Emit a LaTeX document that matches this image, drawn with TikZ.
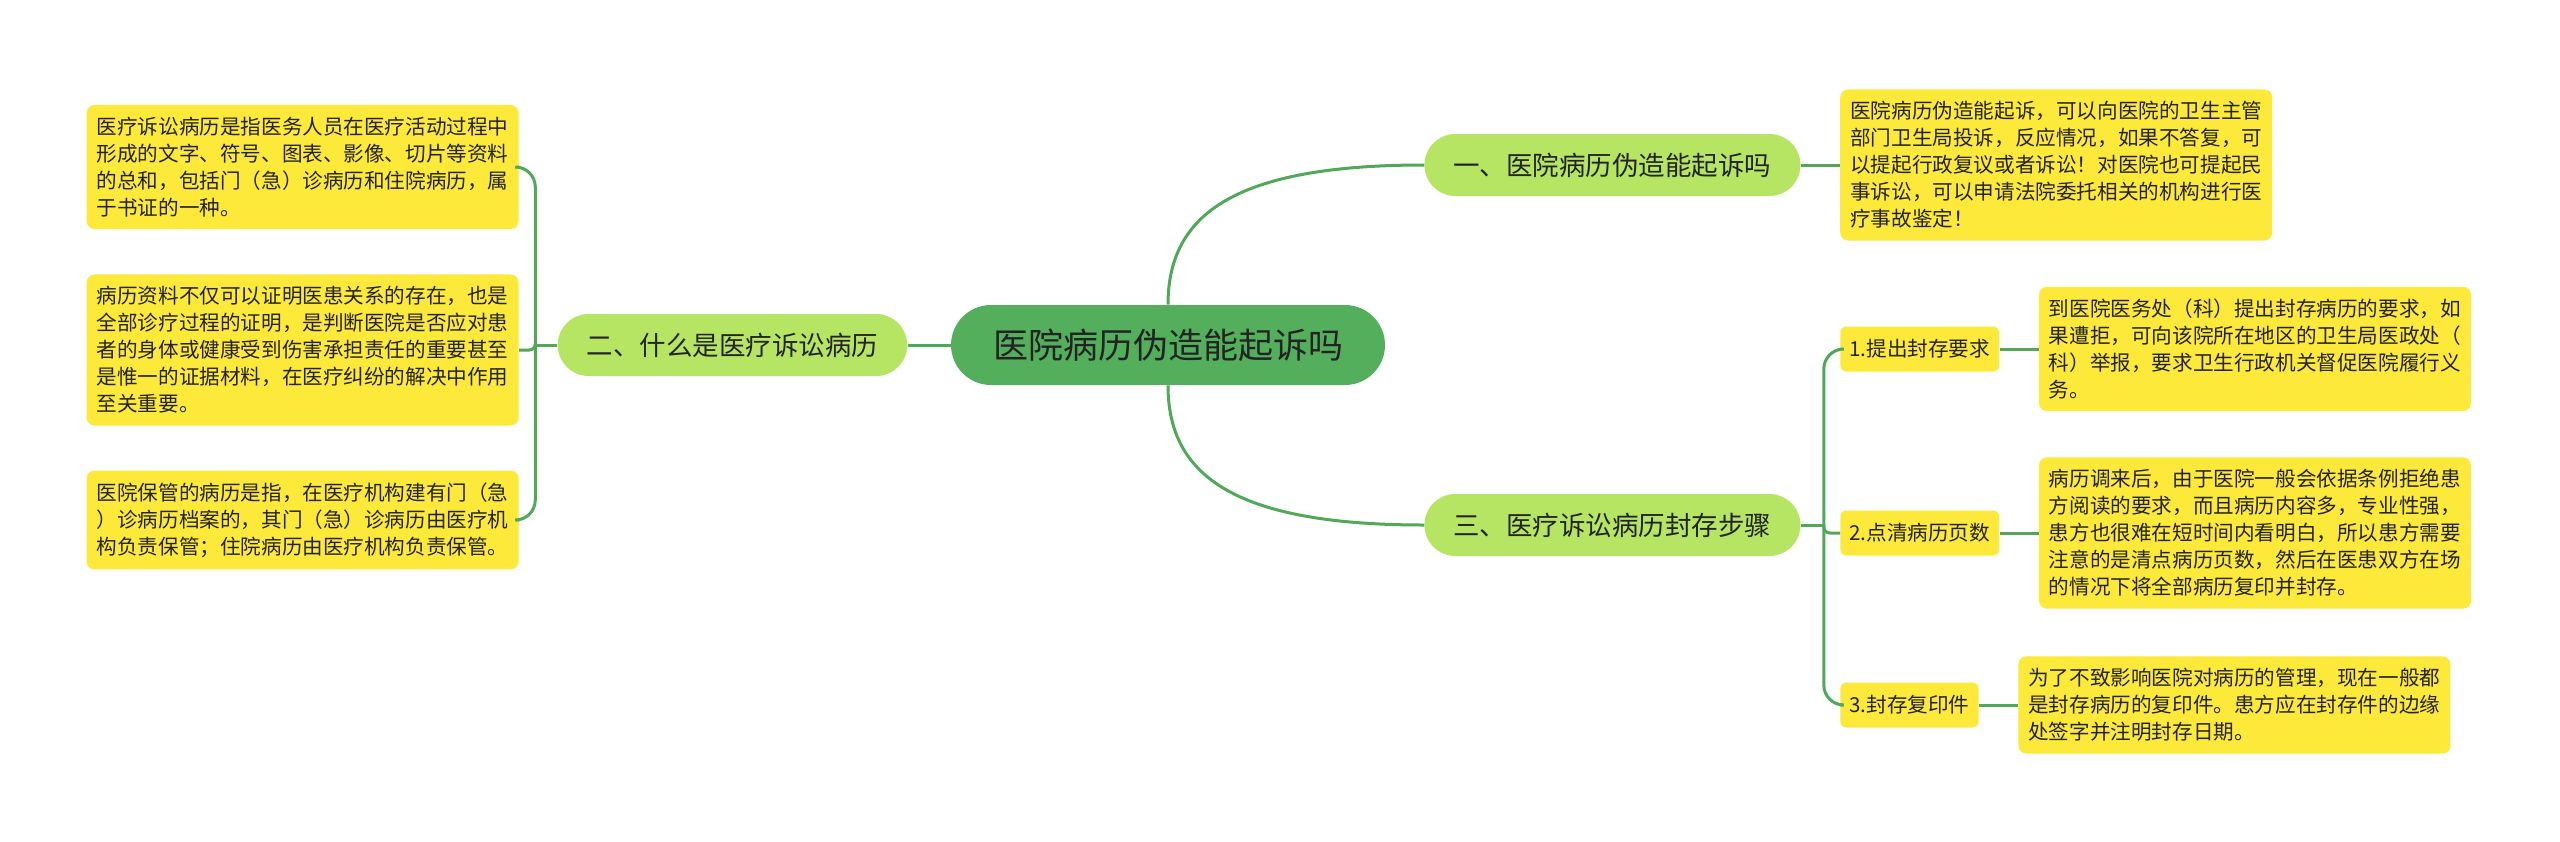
\documentclass[tikz,border=0pt]{standalone}
\usepackage{fontspec}
\setmainfont{Noto Sans CJK SC}
\usetikzlibrary{positioning}
\definecolor{rtf}{RGB}{83,175,92}
\definecolor{brf}{RGB}{181,229,98}
\definecolor{ylf}{RGB}{253,233,58}
\definecolor{lnc}{RGB}{80,168,88}
\definecolor{txc}{RGB}{35,35,35}
\newcommand{\mmroot}{\fontsize{17.5pt}{21pt}\selectfont}
\newcommand{\mmbr}{\fontsize{13.25pt}{16pt}\selectfont}
\newcommand{\mmleaf}{\fontsize{10.3pt}{13.5pt}\selectfont}
\tikzset{
  rootn/.style={rectangle,rounded corners=20pt,fill=rtf,text=txc,
    font=\mmroot,inner xsep=21pt,minimum height=40pt},
  brn/.style={rectangle,rounded corners=15.5pt,fill=brf,text=txc,
    font=\mmbr,inner xsep=14.5pt,minimum height=31pt},
  subn/.style={rectangle,rounded corners=3pt,fill=ylf,text=txc,
    font=\mmleaf,inner xsep=4.5pt,minimum height=22.5pt},
  leafn/.style={rectangle,rounded corners=4pt,fill=ylf,text=txc,
    font=\mmleaf,align=left,inner xsep=5pt,inner ysep=6pt},
  link/.style={draw=lnc,line width=1.5pt},
}

\begin{document}
\begin{tikzpicture}[x=0.5pt,y=-0.5pt,node distance=19.5pt]
        \fill[white] (0,0) rectangle (2560,841);
        \useasboundingbox (0,0) rectangle (2560,841);
        % centre and main branches
        \node[rootn] (rt) at (1168,345) {医院病历伪造能起诉吗};
        \node[brn,left=21.5pt of rt] (b2) {二、什么是医疗诉讼病历};
        \node[brn,anchor=west] (b1) at (1424,165) {一、医院病历伪造能起诉吗};
        \node[brn,anchor=west] (b3) at (1424,525) {三、医疗诉讼病历封存步骤};
        % right side
        \node[leafn,right=of b1] (r1) {医院病历伪造能起诉，可以向医院的卫生主管\\部门卫生局投诉，反应情况，如果不答复，可\\以提起行政复议或者诉讼！对医院也可提起民\\事诉讼，可以申请法院委托相关的机构进行医\\疗事故鉴定！};
        \node[subn,anchor=west] (s1) at (1840,349) {1.提出封存要求};
        \node[subn,anchor=west] (s2) at (1840,533) {2.点清病历页数};
        \node[subn,anchor=west] (s3) at (1840,705) {3.封存复印件};
        \node[leafn,right=of s1] (r2) {到医院医务处（科）提出封存病历的要求，如\\果遭拒，可向该院所在地区的卫生局医政处（\\科）举报，要求卫生行政机关督促医院履行义\\务。};
        \node[leafn,right=of s2] (r3) {病历调来后，由于医院一般会依据条例拒绝患\\方阅读的要求，而且病历内容多，专业性强，\\患方也很难在短时间内看明白，所以患方需要\\注意的是清点病历页数，然后在医患双方在场\\的情况下将全部病历复印并封存。};
        \node[leafn,right=of s3] (r4) {为了不致影响医院对病历的管理，现在一般都\\是封存病历的复印件。患方应在封存件的边缘\\处签字并注明封存日期。};
        % left side
        \node[leafn,anchor=east] (l1) at (519,167) {医疗诉讼病历是指医务人员在医疗活动过程中\\形成的文字、符号、图表、影像、切片等资料\\的总和，包括门（急）诊病历和住院病历，属\\于书证的一种。};
        \node[leafn,anchor=east] (l2) at (519,350) {病历资料不仅可以证明医患关系的存在，也是\\全部诊疗过程的证明，是判断医院是否应对患\\者的身体或健康受到伤害承担责任的重要甚至\\是惟一的证据材料，在医疗纠纷的解决中作用\\至关重要。};
        \node[leafn,anchor=east] (l3) at (519,520) {医院保管的病历是指，在医疗机构建有门（急\\）诊病历档案的，其门（急）诊病历由医疗机\\构负责保管；住院病历由医疗机构负责保管。};
        % connectors
        \draw[link] (rt.north) .. controls +(0,45pt) and +(-95pt,0) .. (b1.west);
        \draw[link] (rt.south) .. controls +(0,-45pt) and +(-95pt,0) .. (b3.west);
        \draw[link] (rt.west) -- (b2.east);
        \draw[link] (b1.east) -- (r1.west);
        \draw[link] (b2.west) -- ++(-11pt,0) coordinate (lj);
        \draw[link,rounded corners=10pt] (lj) |- (l1.east);
        \draw[link,rounded corners=3pt] (lj) |- (l2.east);
        \draw[link,rounded corners=10pt] (lj) |- (l3.east);
        \draw[link] (b3.east) -- ++(11.5pt,0) coordinate (rj);
        \draw[link,rounded corners=10pt] (rj) |- (s1.west);
        \draw[link,rounded corners=3pt] (rj) |- (s2.west);
        \draw[link,rounded corners=10pt] (rj) |- (s3.west);
        \draw[link] (s1.east) -- (r2.west);
        \draw[link] (s2.east) -- (r3.west);
        \draw[link] (s3.east) -- (r4.west);
      \end{tikzpicture}
\end{document}
